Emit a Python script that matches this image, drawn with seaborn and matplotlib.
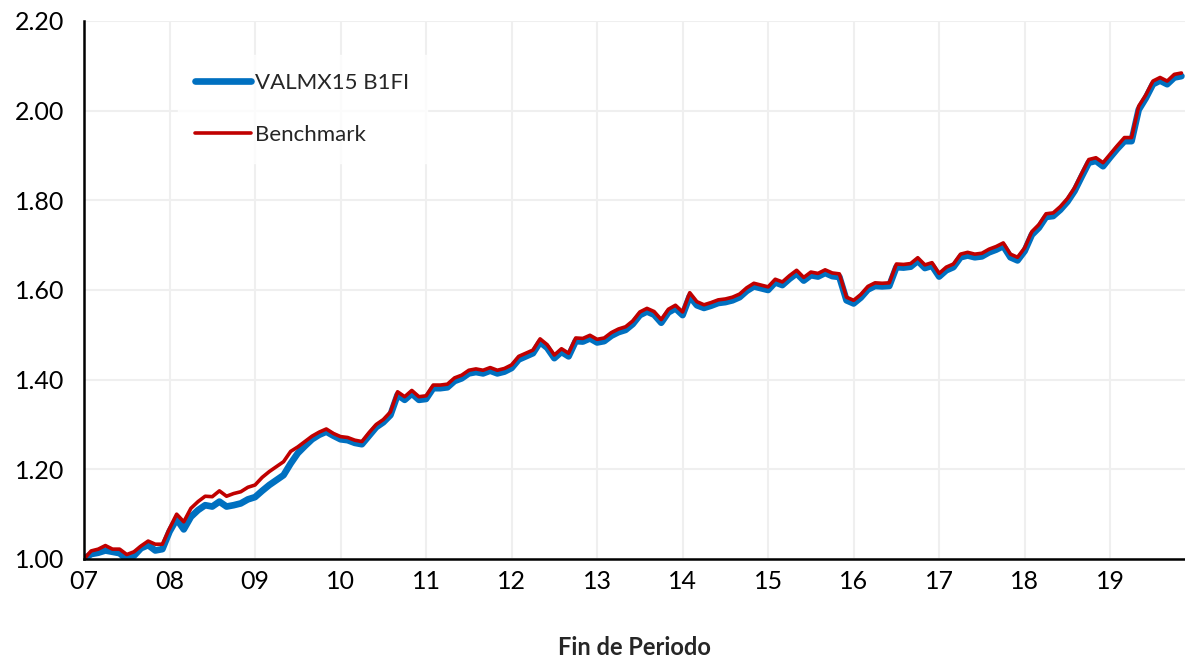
import numpy as np
import pandas as pd
import matplotlib
matplotlib.use("Agg")
import matplotlib.pyplot as plt
import seaborn as sns

# monthly values, Jan 2007 .. Nov 2019
benchmark = [
    1.000, 1.018, 1.022, 1.030, 1.022, 1.022, 1.010, 1.016, 1.029, 1.040, 1.033, 1.033,
    1.068, 1.100, 1.083, 1.113, 1.128, 1.140, 1.139, 1.152, 1.140, 1.146, 1.150, 1.160,
    1.165, 1.182, 1.195, 1.206, 1.217, 1.240, 1.250, 1.262, 1.274, 1.283, 1.290, 1.280,
    1.273, 1.271, 1.265, 1.262, 1.282, 1.300, 1.311, 1.328, 1.373, 1.362, 1.376, 1.362,
    1.364, 1.388, 1.388, 1.390, 1.404, 1.410, 1.421, 1.424, 1.421, 1.427, 1.421, 1.425,
    1.433, 1.452, 1.459, 1.466, 1.491, 1.478, 1.455, 1.469, 1.459, 1.493, 1.492, 1.499,
    1.490, 1.493, 1.505, 1.513, 1.518, 1.531, 1.551, 1.559, 1.552, 1.534, 1.557, 1.566,
    1.551, 1.594, 1.574, 1.567, 1.572, 1.578, 1.580, 1.584, 1.591, 1.605, 1.615, 1.611,
    1.607, 1.624, 1.618, 1.632, 1.644, 1.628, 1.640, 1.637, 1.645, 1.638, 1.636, 1.584,
    1.577, 1.590, 1.608, 1.616, 1.615, 1.616, 1.658, 1.657, 1.659, 1.672, 1.656, 1.661,
    1.637, 1.651, 1.658, 1.680, 1.684, 1.680, 1.682, 1.691, 1.697, 1.705, 1.680, 1.673,
    1.694, 1.730, 1.746, 1.770, 1.772, 1.786, 1.804, 1.828, 1.860, 1.891, 1.895, 1.884,
    1.903, 1.922, 1.940, 1.940, 2.010, 2.035, 2.066, 2.074, 2.066, 2.081, 2.084,
]

fund = [
    1.000, 1.011, 1.014, 1.019, 1.016, 1.013, 0.999, 1.007, 1.024, 1.031, 1.019, 1.022,
    1.061, 1.089, 1.066, 1.094, 1.109, 1.120, 1.117, 1.128, 1.117, 1.120, 1.124, 1.133,
    1.138, 1.152, 1.165, 1.176, 1.187, 1.213, 1.236, 1.252, 1.267, 1.277, 1.284, 1.275,
    1.267, 1.265, 1.259, 1.256, 1.275, 1.294, 1.305, 1.321, 1.366, 1.355, 1.369, 1.355,
    1.357, 1.381, 1.381, 1.383, 1.397, 1.403, 1.414, 1.417, 1.414, 1.420, 1.414, 1.418,
    1.426, 1.445, 1.452, 1.459, 1.484, 1.471, 1.448, 1.462, 1.452, 1.486, 1.485, 1.492,
    1.483, 1.486, 1.498, 1.506, 1.511, 1.524, 1.544, 1.552, 1.545, 1.527, 1.550, 1.559,
    1.544, 1.586, 1.566, 1.560, 1.565, 1.571, 1.573, 1.577, 1.584, 1.598, 1.608, 1.604,
    1.600, 1.617, 1.611, 1.625, 1.637, 1.621, 1.633, 1.630, 1.638, 1.631, 1.629, 1.577,
    1.570, 1.583, 1.601, 1.609, 1.608, 1.609, 1.651, 1.650, 1.652, 1.665, 1.649, 1.654,
    1.630, 1.644, 1.651, 1.673, 1.677, 1.673, 1.675, 1.684, 1.690, 1.698, 1.673, 1.666,
    1.687, 1.723, 1.739, 1.763, 1.765, 1.779, 1.797, 1.821, 1.853, 1.884, 1.888, 1.876,
    1.896, 1.915, 1.932, 1.932, 2.002, 2.028, 2.059, 2.067, 2.059, 2.074, 2.077,
]

year_ticks = list(range(7, 20))
year_labels = ["%02d" % y for y in year_ticks]
y_ticks = [1.00, 1.20, 1.40, 1.60, 1.80, 2.00, 2.20]

sns.set_style("whitegrid")
plt.rcParams["font.family"] = ["Lato", "DejaVu Sans"]

t = 7 + np.arange(len(benchmark)) / 12.0
df = pd.DataFrame({
    "t": np.concatenate([t, t]),
    "v": fund + benchmark,
    "serie": ["VALMX15 B1FI"] * len(fund) + ["Benchmark"] * len(benchmark),
})

fig = plt.figure(figsize=(11.85, 6.58), dpi=100)
ax = fig.add_axes([84 / 1185, 99 / 658, 1 - 84 / 1185, 538 / 658])

palette = {"VALMX15 B1FI": "#0070C0", "Benchmark": "#C00000"}
sns.lineplot(data=df, x="t", y="v", hue="serie", size="serie",
             sizes={"VALMX15 B1FI": 4.8, "Benchmark": 2.6},
             palette=palette, ax=ax, legend=False)

ax.set_xlim(7, 7 + 154.5 / 12)
ax.set_ylim(1.0, 2.2)
ax.set_xticks(year_ticks)
ax.set_xticklabels(year_labels)
ax.set_yticks(y_ticks)
ax.set_yticklabels(["%.2f" % v for v in y_ticks])
ax.tick_params(axis="both", labelsize=18, length=0, colors="black")
ax.tick_params(axis="x", pad=8)
ax.tick_params(axis="y", pad=14)
ax.grid(True, color="#EFEFEF", linewidth=1.5)
for s in ["top", "right"]:
    ax.spines[s].set_visible(False)
for s in ["left", "bottom"]:
    ax.spines[s].set_color("black")
    ax.spines[s].set_linewidth(1.8)
ax.set_xlabel("Fin de Periodo", fontsize=17, fontweight="bold", labelpad=31)
ax.set_ylabel("")

handles = [
    plt.Line2D([], [], color="#0070C0", linewidth=4.8, solid_capstyle="round"),
    plt.Line2D([], [], color="#C00000", linewidth=2.6, solid_capstyle="round"),
]
leg = ax.legend(handles, ["VALMX15 B1FI", "Benchmark"], loc="upper left",
                bbox_to_anchor=(0.075, 0.957), frameon=True, fontsize=16,
                handlelength=2.5, handletextpad=0.2, labelspacing=1.45,
                borderpad=0.8, fancybox=False)
leg.get_frame().set_facecolor("white")
leg.get_frame().set_edgecolor("white")

fig.savefig("out.png", dpi=100)
